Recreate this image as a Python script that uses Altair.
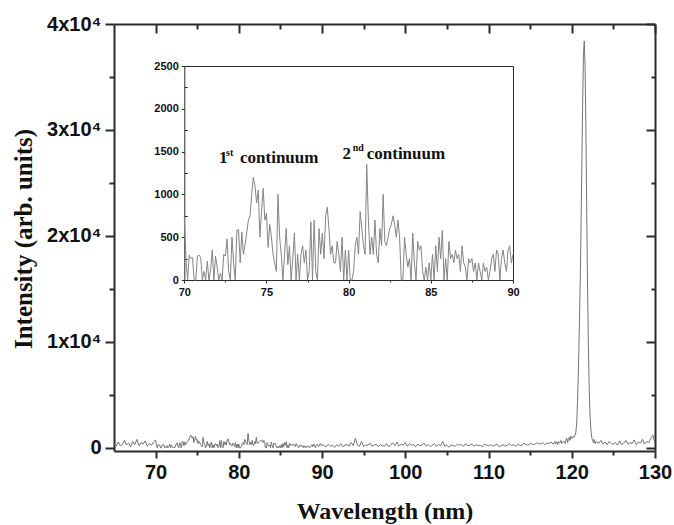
import altair as alt
import numpy as np
import pandas as pd

# ---------------- data ----------------
wl_a = np.round(np.linspace(65.0, 69.75, 20), 2)
int_a = [400, 150, 550, 200, 300, 700, 250, 450, 100, 600,
         300, 800, 200, 500, 350, 650, 150, 400, 250, 550]

wl_inset = np.round(np.linspace(70.0, 90.0, 201), 2)
int_inset = [
    730, 250, 0, 290, 250, 260, 0, 0, 280, 290,
    260, 0, 100, 0, 220, 0, 120, 350, 0, 280,
    150, 0, 80, 0, 300, 280, 480, 100, 0, 500,
    200, 0, 580, 590, 200, 560, 300, 420, 560, 700,
    750, 1000, 1200, 1100, 900, 1050, 500, 800, 1070, 700,
    780, 380, 650, 500, 300, 200, 100, 1000, 500, 300,
    0, 300, 600, 180, 400, 0, 250, 550, 0, 300,
    0, 300, 400, 200, 350, 0, 100, 680, 0, 700,
    100, 0, 600, 300, 550, 250, 750, 850, 600, 300,
    400, 200, 200, 450, 300, 100, 500, 0, 350, 0,
    350, 0, 0, 100, 400, 500, 300, 800, 600, 400,
    300, 1350, 700, 300, 500, 300, 700, 300, 200, 600,
    400, 1000, 450, 400, 500, 600, 650, 750, 650, 500,
    700, 500, 0, 0, 500, 300, 150, 250, 0, 550,
    200, 0, 450, 350, 400, 100, 0, 150, 0, 200,
    0, 300, 0, 400, 100, 500, 250, 580, 0, 250,
    0, 450, 250, 300, 200, 350, 250, 300, 100, 400,
    200, 150, 0, 250, 200, 250, 100, 200, 0, 200,
    100, 0, 200, 100, 150, 0, 100, 250, 300, 100,
    350, 300, 0, 250, 350, 200, 100, 350, 400, 200,
    300]

wl_c = np.round(np.linspace(90.25, 118.0, 112), 2)
int_c = [
    200, 100, 350, 150, 250, 50, 300, 150,
    400, 100, 250, 300, 150, 500, 200, 900,
    250, 150, 600, 100, 300, 200, 450, 150,
    250, 350, 100, 300, 200, 150, 400, 100,
    300, 450, 200, 550, 150, 350, 250, 500,
    150, 400, 250, 300, 100, 350, 200, 250,
    450, 150, 300, 100, 250, 400, 150, 300,
    200, 600, 150, 250, 50, 300, 200, 150,
    350, 250, 300, 150, 400, 200, 250, 350,
    150, 300, 200, 250, 100, 350, 250, 200,
    300, 150, 250, 350, 100, 200, 300, 150,
    250, 400, 200, 300, 150, 350, 250, 200,
    450, 300, 250, 400, 350, 300, 450, 400,
    350, 500, 300, 450, 400, 550, 350, 600]

wl_d = np.round(np.linspace(118.1, 123.0, 50), 2)
int_d = [
    400, 550, 300, 600, 450, 500, 700, 400, 550, 600,
    600, 400, 700, 900, 500, 800, 1000, 700, 1100, 900,
    900, 1100, 1000, 1200, 1500, 2500, 4500, 7500, 11000, 15000,
    20000, 26000, 32000, 37000, 38400, 36000, 30000, 22000, 15000, 9500,
    5500, 3000, 1700, 1000, 700, 500, 800, 400, 600, 500]

wl_e = np.round(np.linspace(123.25, 130.0, 28), 2)
int_e = [450, 700, 350, 550, 300, 600, 400, 350,
         500, 250, 650, 300, 450, 700, 350, 500,
         400, 750, 300, 550, 450, 800, 350, 600,
         500, 900, 1200, 400]

main_x_major = [70, 80, 90, 100, 110, 120, 130]
main_x_minor = [75, 85, 95, 105, 115, 125]
main_y_major = [0, 10000, 20000, 30000, 40000]
main_y_minor = [5000, 15000, 25000, 35000]
inset_x_major = [70, 75, 80, 85, 90]
inset_x_minor = [72.5, 77.5, 82.5, 87.5]
inset_y_major = [0, 500, 1000, 1500, 2000, 2500]
inset_y_minor = [250, 750, 1250, 1750, 2250]

ann_text = ["1", "continuum", "2", "continuum"]
ann_wl = [72.11, 73.39, 79.63, 81.1]
ann_val = [1367, 1367, 1414, 1414]
sup_text = ["st", "nd"]
sup_wl = [72.54, 80.25]
sup_val = [1449, 1507]

# ---------------- frames ----------------
df_main = pd.DataFrame({
    "wl": np.concatenate([wl_a, wl_inset, wl_c, wl_d, wl_e]),
    "I": np.concatenate([int_a, int_inset, int_c, int_d, int_e]).astype(float),
})
df_inset = pd.DataFrame({"wl": wl_inset, "I": np.array(int_inset, dtype=float)})
df_ann = pd.DataFrame({"wl": ann_wl, "I": ann_val, "t": ann_text})
df_sup = pd.DataFrame({"wl": sup_wl, "I": sup_val, "t": sup_text})

# ---------------- layout ----------------
W, H = 541, 427
PL, PT = 114, 24
IX0, IX1 = 184.3 - PL, 513 - PL
IY0, IY1 = 280 - PT, 66 - PT

AX = "#2a2a2a"
SANS = "Liberation Sans"
SERIF = "Liberation Serif"


def mscale_x():
    return alt.Scale(domain=[65, 130], nice=False, zero=False)


def mscale_y():
    return alt.Scale(domain=[-300, 40000], nice=False, zero=False)


def iscale_x():
    return alt.Scale(domain=[70, 90], range=[IX0, IX1], nice=False, zero=False)


def iscale_y():
    return alt.Scale(domain=[0, 2500], range=[IY0, IY1], nice=False, zero=False)


def bare_axis(**kw):
    base = dict(labels=False, grid=False, title="", domainColor=AX, tickColor=AX)
    base.update(kw)
    return alt.Axis(**base)


# main line with labelled axes
main_line = alt.Chart(df_main).mark_line(color="#747474", strokeWidth=1).encode(
    x=alt.X("wl:Q", scale=mscale_x(), axis=alt.Axis(
        orient="bottom", values=main_x_major, tickSize=7, labelPadding=4,
        labelFont=SANS, labelFontSize=20, labelFontWeight="bold", labelColor="#111",
        labelFlush=False, labelOverlap=False, domainColor=AX, domainWidth=2,
        tickColor=AX, tickWidth=2, grid=False,
        title="Wavelength (nm)", titleFont=SERIF, titleFontSize=24,
        titleFontWeight="bold", titleColor="#111", titleX=W / 2, titleY=67,
        titleBaseline="alphabetic", titleAlign="center")),
    y=alt.Y("I:Q", scale=mscale_y(), axis=alt.Axis(
        orient="left", values=main_y_major, tickSize=9, labelPadding=4,
        labelExpr="datum.value == 0 ? '0' : (datum.value / 10000) + 'x10\u2074'",
        labelFont=SANS, labelFontSize=20, labelFontWeight="bold", labelColor="#111",
        labelFlush=False, labelOverlap=False, domainColor=AX, domainWidth=2,
        tickColor=AX, tickWidth=2, grid=False,
        title="Intensity (arb. units)", titleFont=SERIF, titleFontSize=25,
        titleFontWeight="bold", titleColor="#111", titleAngle=270,
        titleX=23 - PL, titleY=H / 2 + 1, titleAlign="center", titleBaseline="middle")),
)

ghost = alt.Chart(df_main).mark_line(opacity=0)

main_minor = ghost.encode(
    x=alt.X("wl:Q", scale=mscale_x(), axis=bare_axis(
        orient="bottom", values=main_x_minor, tickSize=4, tickWidth=2, domain=False)),
    y=alt.Y("I:Q", scale=mscale_y(), axis=bare_axis(
        orient="left", values=main_y_minor, tickSize=5, tickWidth=2, domain=False)),
)

main_topright_major = ghost.encode(
    x=alt.X("wl:Q", scale=mscale_x(), axis=bare_axis(
        orient="bottom", offset=-H, values=main_x_major, tickSize=9, tickWidth=2,
        domain=True, domainWidth=2)),
    y=alt.Y("I:Q", scale=mscale_y(), axis=bare_axis(
        orient="left", offset=-W, values=main_y_major, tickSize=9, tickWidth=2,
        domain=True, domainWidth=2)),
)

main_topright_minor = ghost.encode(
    x=alt.X("wl:Q", scale=mscale_x(), axis=bare_axis(
        orient="bottom", offset=-H, values=main_x_minor, tickSize=5, tickWidth=2,
        domain=False)),
    y=alt.Y("I:Q", scale=mscale_y(), axis=bare_axis(
        orient="left", offset=-W, values=main_y_minor, tickSize=4, tickWidth=2,
        domain=False)),
)

# inset
inset_line = alt.Chart(df_inset).mark_line(color="#858585", strokeWidth=1).encode(
    x=alt.X("wl:Q", scale=iscale_x(), axis=alt.Axis(
        orient="bottom", offset=-(H - IY0), values=inset_x_major, tickSize=3,
        labelPadding=3, labelFont=SANS, labelFontSize=11, labelFontWeight="bold",
        labelColor="#111", labelFlush=False, labelOverlap=False, format="d",
        domainColor=AX, domainWidth=1, tickColor=AX, tickWidth=1, grid=False, title="")),
    y=alt.Y("I:Q", scale=iscale_y(), axis=alt.Axis(
        orient="left", offset=-IX0, values=inset_y_major, tickSize=3,
        labelPadding=3, labelFont=SANS, labelFontSize=11, labelFontWeight="bold",
        labelColor="#111", labelFlush=False, labelOverlap=False, format="d",
        domainColor=AX, domainWidth=1, tickColor=AX, tickWidth=1, grid=False, title="")),
)

ighost = alt.Chart(df_inset).mark_line(opacity=0)

inset_minor = ighost.encode(
    x=alt.X("wl:Q", scale=iscale_x(), axis=bare_axis(
        orient="bottom", offset=-(H - IY0), values=inset_x_minor, tickSize=2,
        tickWidth=1, domain=False)),
    y=alt.Y("I:Q", scale=iscale_y(), axis=bare_axis(
        orient="right", offset=IX0 - W, values=inset_y_minor, tickSize=3,
        tickWidth=1, domain=False)),
)

inset_frame = ighost.encode(
    x=alt.X("wl:Q", scale=iscale_x(), axis=bare_axis(
        orient="top", offset=-IY1, ticks=False, domain=True, domainWidth=1)),
    y=alt.Y("I:Q", scale=iscale_y(), axis=bare_axis(
        orient="right", offset=IX1 - W, ticks=False, domain=True, domainWidth=1)),
)

ann = alt.Chart(df_ann).mark_text(
    font=SERIF, fontSize=17, fontWeight="bold", align="left",
    baseline="alphabetic", color="#111").encode(
    x=alt.X("wl:Q", scale=iscale_x(), axis=None),
    y=alt.Y("I:Q", scale=iscale_y(), axis=None),
    text="t:N",
)

sup = alt.Chart(df_sup).mark_text(
    font=SERIF, fontSize=10, fontWeight="bold", align="left",
    baseline="alphabetic", color="#111").encode(
    x=alt.X("wl:Q", scale=iscale_x(), axis=None),
    y=alt.Y("I:Q", scale=iscale_y(), axis=None),
    text="t:N",
)

chart = alt.layer(
    main_line, main_minor, main_topright_major, main_topright_minor,
    inset_line, inset_minor, inset_frame, ann, sup,
).resolve_scale(x="independent", y="independent").properties(
    width=W, height=H,
    padding={"left": PL, "top": PT, "right": 674 - PL - W, "bottom": 525 - PT - H},
    autosize=alt.AutoSizeParams(type="none"),
    background="white",
).configure_view(stroke=None)

chart.save("out.html", embed_options={"renderer": "svg", "actions": False})
